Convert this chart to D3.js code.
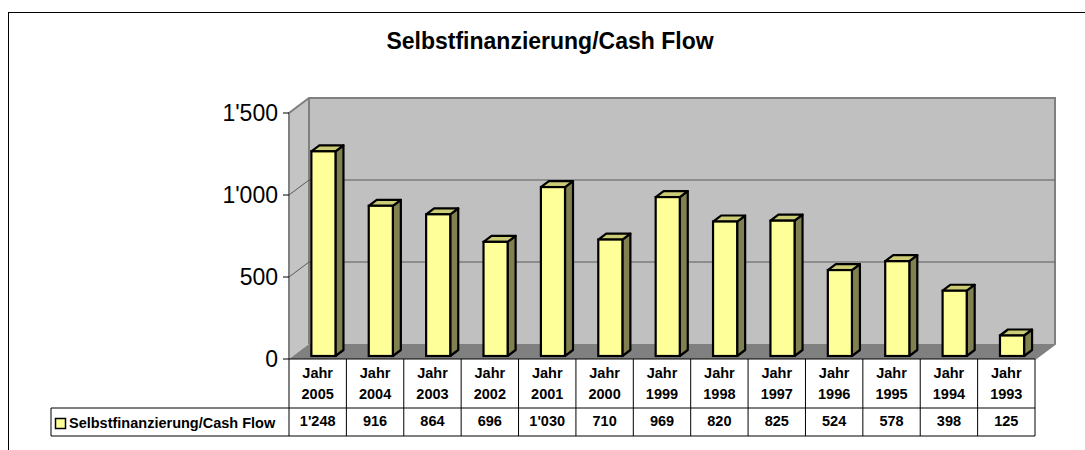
<!DOCTYPE html>
<html>
<head>
<meta charset="utf-8">
<script src="https://cdn.jsdelivr.net/npm/d3@7"></script>
<style>
  body { margin: 0; background: #fff; }
  svg text { font-family: Arial, "Liberation Sans", sans-serif; }
</style>
</head>
<body>
<div id="chart"></div>
<script>
// data
const years = ["2005", "2004", "2003", "2002", "2001", "2000", "1999", "1998", "1997", "1996", "1995", "1994", "1993"];
const cashFlow = [1248, 916, 864, 696, 1030, 710, 969, 820, 825, 524, 578, 398, 125];
const yTicks = [0, 500, 1000, 1500];
const seriesName = "Selbstfinanzierung/Cash Flow";
const chartTitle = "Selbstfinanzierung/Cash Flow";

const W = 1085, H = 450;
const depth = { dx: 20, dy: -15 };          // wall depth offset
const barFront = { dx: 4, dy: -3 };         // bar sits a bit back in the depth
const barDepth = { dx: 8, dy: -6 };

const fmt = d3.formatLocale({ decimal: ".", thousands: "'", grouping: [3], currency: ["", ""] }).format(",");

const svg = d3.select("#chart").append("svg")
    .attr("width", W)
    .attr("height", H);

// outer chart border (only left and top visible in the window)
svg.append("rect")
    .attr("x", 8.5).attr("y", 12.5)
    .attr("width", 1200).attr("height", 600)
    .attr("fill", "none").attr("stroke", "#000");

svg.append("text")
    .attr("x", 550).attr("y", 49)
    .attr("text-anchor", "middle")
    .style("font-size", "23px").style("font-weight", "bold")
    .text(chartTitle);

const x = d3.scaleBand().domain(years).range([289, 1035]).padding(0);
const y = d3.scaleLinear().domain([0, 1500]).range([359, 113]);

const x0 = x.range()[0], x1 = x.range()[1];
const yTop = y(1500), yBase = y(0);

// walls and floor
const walls = svg.append("g").attr("class", "walls");
walls.append("rect")
    .attr("x", x0 + depth.dx).attr("y", yTop + depth.dy)
    .attr("width", x1 - x0).attr("height", yBase - yTop)
    .attr("fill", "#c0c0c0");
walls.append("path")
    .attr("d", `M${x0},${yTop}L${x0 + depth.dx},${yTop + depth.dy}L${x0 + depth.dx},${yBase + depth.dy}L${x0},${yBase}Z`)
    .attr("fill", "#c4c4c4");
walls.append("path")
    .attr("d", `M${x0},${yBase}L${x0 + depth.dx},${yBase + depth.dy}L${x1 + depth.dx},${yBase + depth.dy}L${x1},${yBase}Z`)
    .attr("fill", "#808080");

// gridlines
const grid = svg.append("g").attr("class", "grid");
yTicks.filter(t => t > 0 && t < 1500).forEach(t => {
    grid.append("path")
        .attr("d", `M${x0},${y(t)}L${x0 + depth.dx},${y(t) + depth.dy}L${x1 + depth.dx},${y(t) + depth.dy}`)
        .attr("fill", "none").attr("stroke", "#5a5a5a").attr("stroke-width", 1);
});

// wall edges
walls.append("path")
    .attr("d", `M${x0},${yBase}L${x0},${yTop}L${x0 + depth.dx},${yTop + depth.dy}L${x1 + depth.dx},${yTop + depth.dy}L${x1 + depth.dx},${yBase + depth.dy}L${x1},${yBase}`)
    .attr("fill", "none").attr("stroke", "#808080").attr("stroke-width", 2);
walls.append("path")
    .attr("d", `M${x0 + depth.dx},${yTop + depth.dy}L${x0 + depth.dx},${yBase + depth.dy}`)
    .attr("fill", "none").attr("stroke", "#808080").attr("stroke-width", 2);

// y axis ticks and labels
const yAxis = svg.append("g").attr("class", "y-axis");
yTicks.forEach(t => {
    yAxis.append("line")
        .attr("x1", x0 - 6).attr("x2", x0)
        .attr("y1", y(t)).attr("y2", y(t))
        .attr("stroke", "#000");
    yAxis.append("text")
        .attr("x", x0 - 11).attr("y", y(t) + 8)
        .attr("text-anchor", "end")
        .style("font-size", "23px")
        .text(fmt(t));
});

// 3d bars
const barW = x.bandwidth() * 0.42;
const bars = svg.selectAll(".bar")
    .data(years.map((yr, i) => ({ yr, v: cashFlow[i] })))
    .join("g")
    .attr("class", "bar");

bars.each(function (d) {
    const g = d3.select(this);
    const fx = x(d.yr) + x.bandwidth() * 0.32 + barFront.dx;
    const fb = y(0) + barFront.dy;
    const ft = y(d.v) + barFront.dy;
    const bx = barDepth.dx, by = barDepth.dy;
    // side
    g.append("path")
        .attr("d", `M${fx + barW},${fb}L${fx + barW + bx},${fb + by}L${fx + barW + bx},${ft + by}L${fx + barW},${ft}Z`)
        .attr("fill", "#808050").attr("stroke", "#000").attr("stroke-width", 2.2).attr("stroke-linejoin", "round");
    // top
    g.append("path")
        .attr("d", `M${fx},${ft}L${fx + bx},${ft + by}L${fx + barW + bx},${ft + by}L${fx + barW},${ft}Z`)
        .attr("fill", "#cccc77").attr("stroke", "#000").attr("stroke-width", 2.2).attr("stroke-linejoin", "round");
    // front
    g.append("rect")
        .attr("x", fx).attr("y", ft)
        .attr("width", barW).attr("height", fb - ft)
        .attr("fill", "#ffff99").attr("stroke", "#000").attr("stroke-width", 2.2);
});

// data table
const table = svg.append("g").attr("class", "data-table");
const rowTop = yBase, rowMid = 408, rowBot = 436, legendX = 51;

table.append("line").attr("x1", x0).attr("x2", x1).attr("y1", rowTop).attr("y2", rowTop).attr("stroke", "#000");
[rowMid, rowBot].forEach(ry => {
    table.append("line").attr("x1", legendX).attr("x2", x1).attr("y1", ry).attr("y2", ry).attr("stroke", "#000");
});
table.append("line").attr("x1", legendX).attr("x2", legendX).attr("y1", rowMid).attr("y2", rowBot).attr("stroke", "#000");
years.concat([null]).forEach(yr => {
    const lx = yr === null ? x1 : x(yr);
    table.append("line").attr("x1", lx).attr("x2", lx).attr("y1", rowTop).attr("y2", rowBot).attr("stroke", "#000");
});

years.forEach((yr, i) => {
    const cx = x(yr) + x.bandwidth() / 2;
    const cell = table.append("text")
        .attr("text-anchor", "middle")
        .style("font-size", "14.5px").style("font-weight", "bold");
    cell.append("tspan").attr("x", cx).attr("y", 378).text("Jahr");
    cell.append("tspan").attr("x", cx).attr("y", 399).text(yr);
    table.append("text")
        .attr("x", cx).attr("y", 426)
        .attr("text-anchor", "middle")
        .style("font-size", "14.5px").style("font-weight", "bold")
        .text(fmt(cashFlow[i]));
});

// legend key inside the table
table.append("rect")
    .attr("x", 55.5).attr("y", 418.5).attr("width", 10).attr("height", 10)
    .attr("fill", "#ffff99").attr("stroke", "#000").attr("stroke-width", 1.5);
table.append("text")
    .attr("x", 69).attr("y", 428)
    .style("font-size", "14.5px").style("font-weight", "bold")
    .text(seriesName);
</script>
</body>
</html>
